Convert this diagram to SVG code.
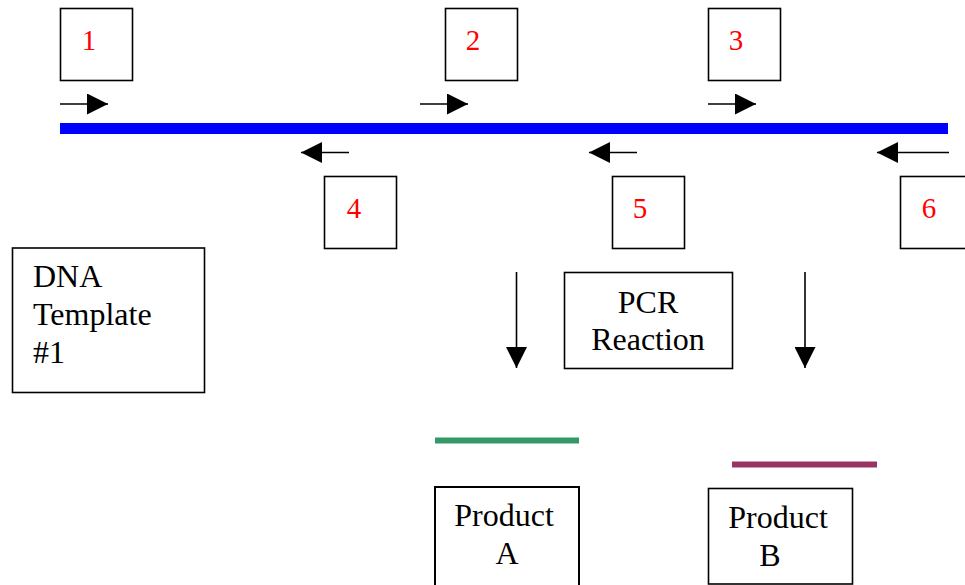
<svg xmlns="http://www.w3.org/2000/svg" width="965" height="585" viewBox="0 0 965 585">
<style>
.box{fill:#fff;stroke:#000;stroke-width:1.6}
.num{font-size:29px;fill:#ff0000;text-anchor:middle}
.lbl{font-size:32px;fill:#000}
.mid{text-anchor:middle}
.arr{stroke:#000;stroke-width:1.6;fill:none;marker-end:url(#ah)}
</style>
<defs>
<marker id="ah" markerUnits="userSpaceOnUse" markerWidth="21" markerHeight="21" viewBox="0 0 21 21" refX="21" refY="10.5" orient="auto">
<path d="M0,0 L21,10.5 L0,21 Z" fill="#000"/>
</marker>
</defs>
<g id="connectors">
<line id="dna-strand" x1="60" y1="128.5" x2="948" y2="128.5" stroke="#0000ff" stroke-width="11"/>
<line class="arr" x1="60" y1="104" x2="108" y2="104"/>
<line class="arr" x1="420" y1="104" x2="468" y2="104"/>
<line class="arr" x1="708" y1="104" x2="756" y2="104"/>
<line class="arr" x1="349" y1="152.5" x2="301" y2="152.5"/>
<line class="arr" x1="637" y1="152.5" x2="589" y2="152.5"/>
<line class="arr" x1="949" y1="152.5" x2="877" y2="152.5"/>
<line class="arr" x1="516.5" y1="272" x2="516.5" y2="368"/>
<line class="arr" x1="805" y1="272" x2="805" y2="368"/>
<line id="product-a-line" x1="435" y1="440.5" x2="579" y2="440.5" stroke="#339966" stroke-width="6"/>
<line id="product-b-line" x1="732" y1="464.5" x2="877" y2="464.5" stroke="#993366" stroke-width="6"/>
</g>
<g font-family="'Liberation Serif', 'Times New Roman', 'DejaVu Serif', serif">
<g id="p1"><rect class="box" x="60.5" y="8.5" width="72" height="72"/><text class="num" x="89" y="50">1</text></g>
<g id="p2"><rect class="box" x="445.5" y="8.5" width="72" height="72"/><text class="num" x="473" y="50">2</text></g>
<g id="p3"><rect class="box" x="708.5" y="8.5" width="72" height="72"/><text class="num" x="736" y="50">3</text></g>
<g id="p4"><rect class="box" x="324.5" y="176.5" width="72" height="72"/><text class="num" x="354" y="218">4</text></g>
<g id="p5"><rect class="box" x="612.5" y="176.5" width="72" height="72"/><text class="num" x="640" y="218">5</text></g>
<g id="p6"><rect class="box" x="900.5" y="176.5" width="72" height="72"/><text class="num" x="929" y="218">6</text></g>
<g id="template"><rect class="box" x="12.5" y="248" width="192" height="144.5"/>
<text class="lbl" x="33" y="287">DNA</text>
<text class="lbl" x="33" y="325">Template</text>
<text class="lbl" x="33" y="363">#1</text></g>
<g id="pcr"><rect class="box" x="564.5" y="272.5" width="168" height="96"/>
<text class="lbl mid" x="648" y="313">PCR</text>
<text class="lbl mid" x="648" y="350">Reaction</text></g>
<g id="productA"><rect class="box" x="435" y="487" width="144" height="110" style="stroke-width:2"/>
<text class="lbl mid" x="504" y="526">Product</text>
<text class="lbl mid" x="507" y="564">A</text></g>
<g id="productB"><rect class="box" x="708.5" y="488.5" width="144" height="95.5"/>
<text class="lbl mid" x="778" y="528">Product</text>
<text class="lbl mid" x="770" y="566">B</text></g>
</g>
</svg>
